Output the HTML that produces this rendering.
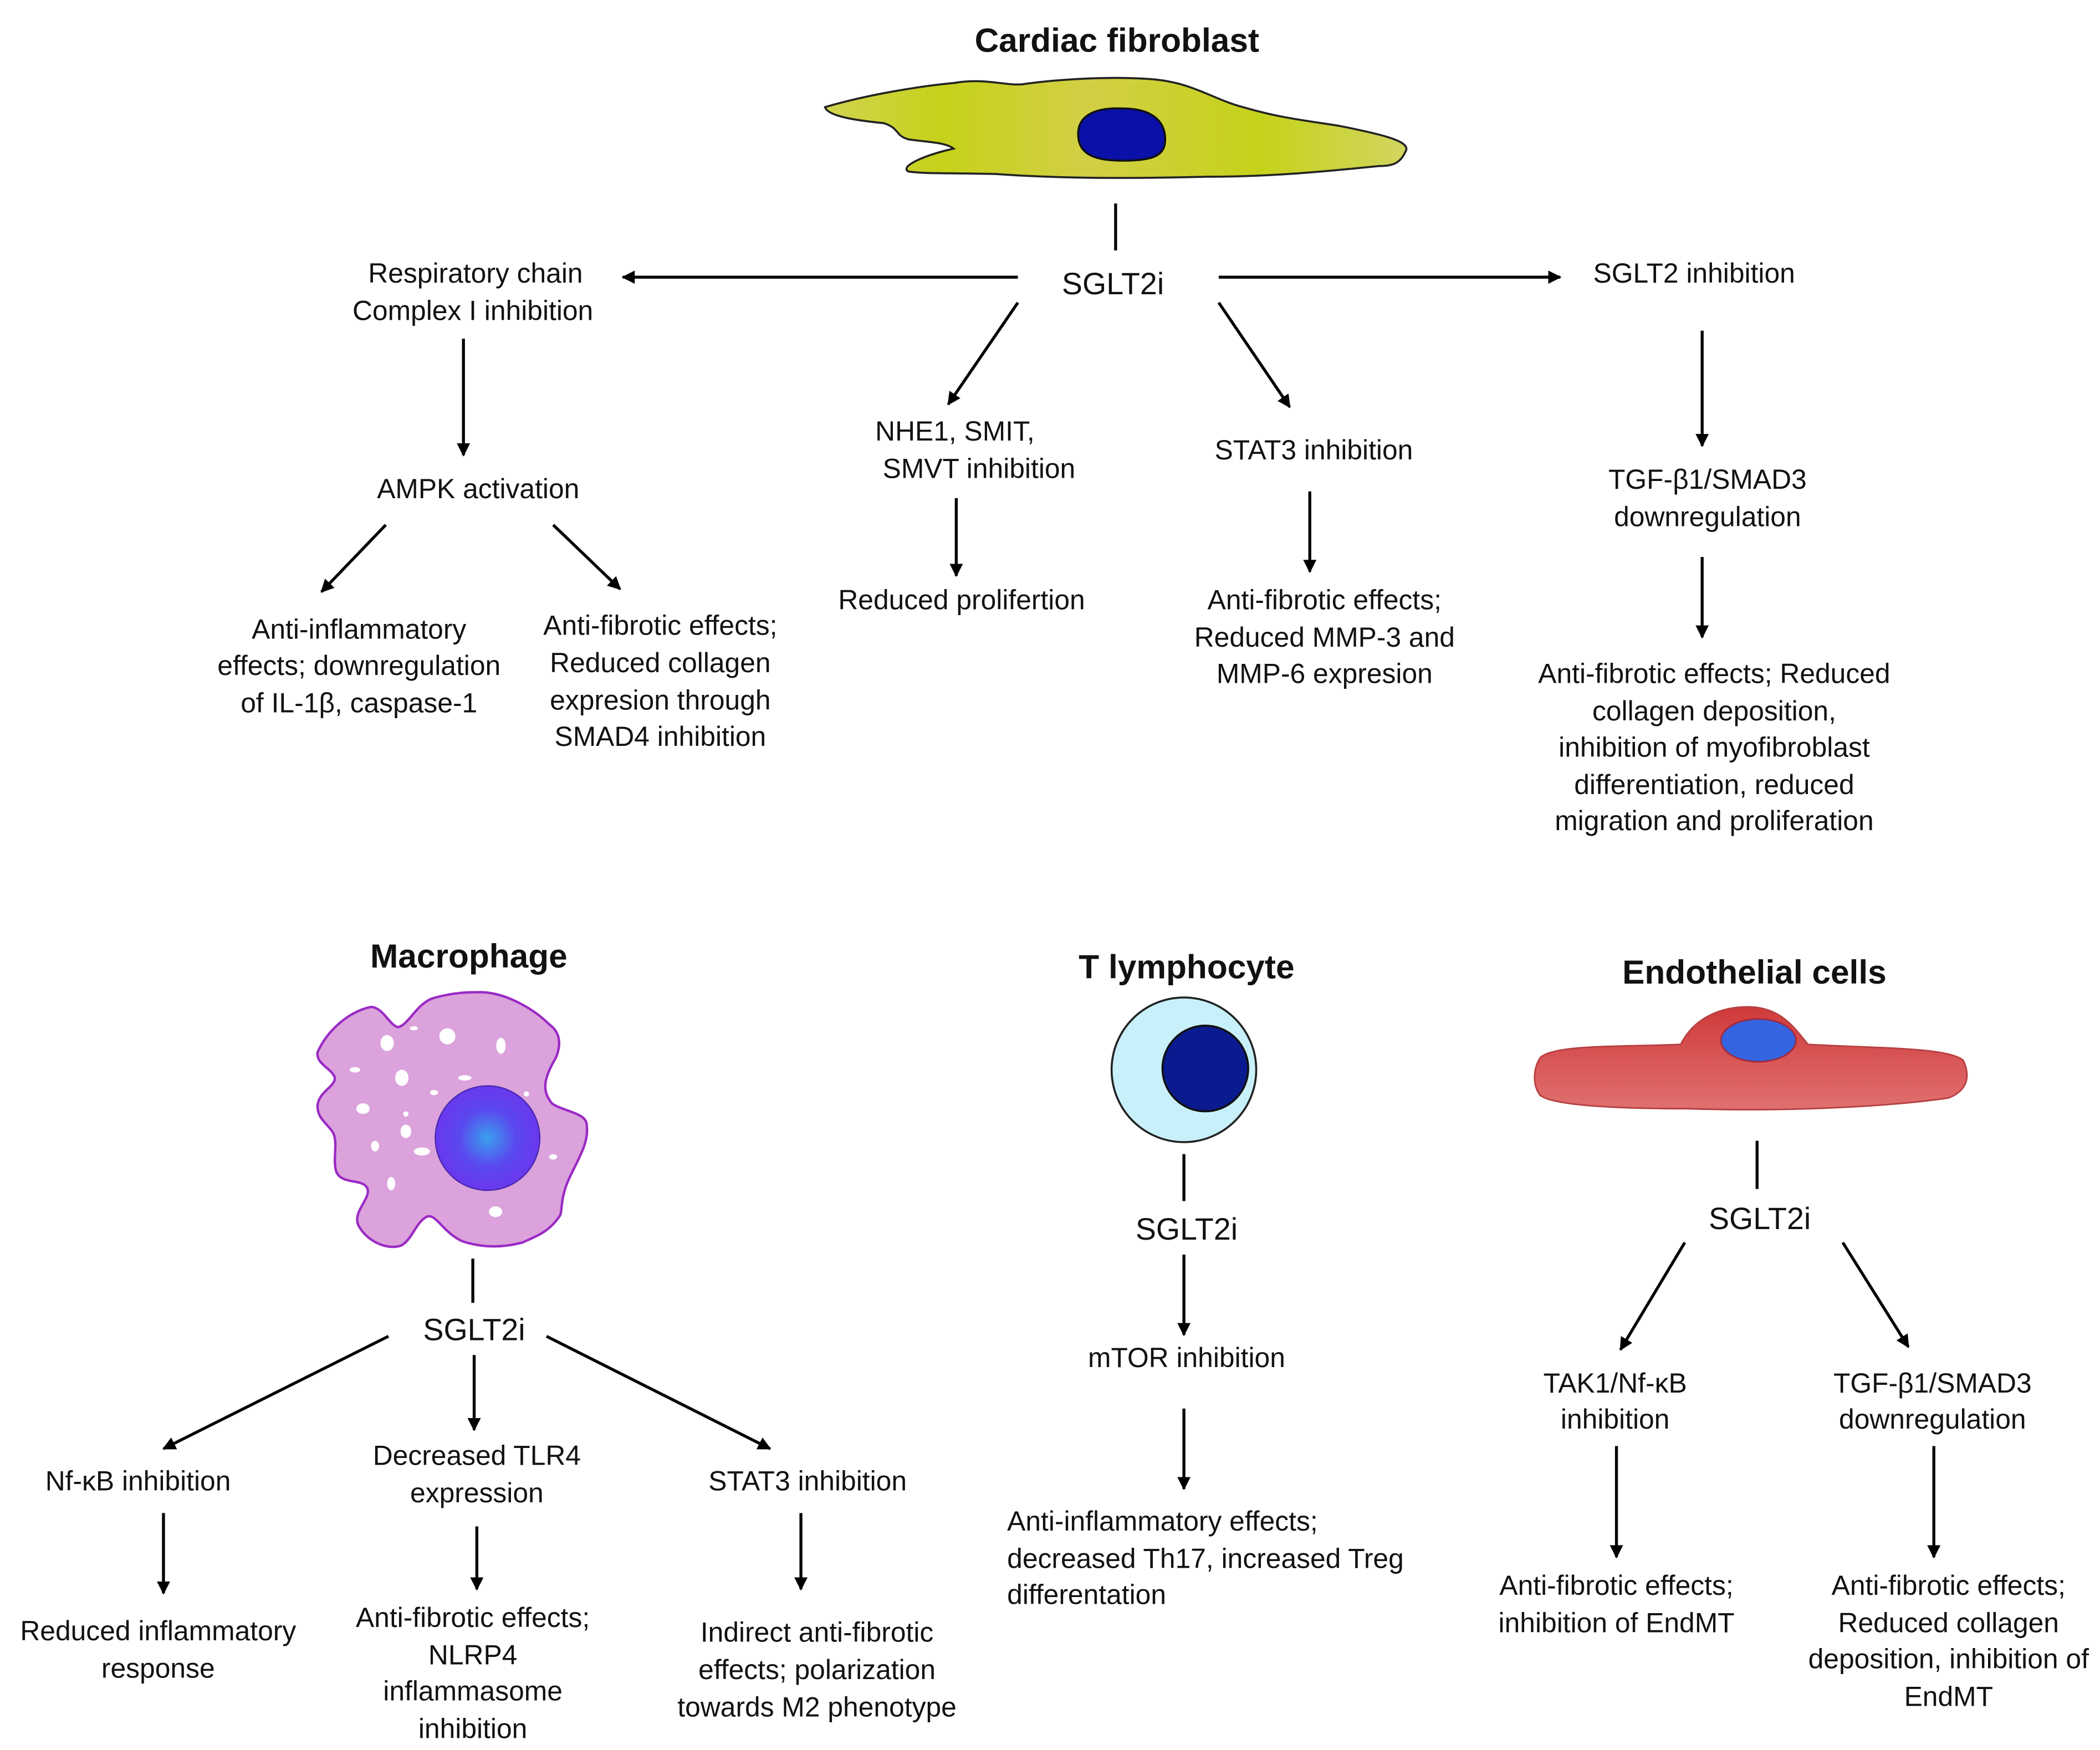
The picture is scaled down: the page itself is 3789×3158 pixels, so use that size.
<!DOCTYPE html>
<html><head><meta charset="utf-8"><style>
html,body{margin:0;padding:0;background:#fff}
svg{display:block}
text{font-family:"Liberation Sans",sans-serif;font-size:20.6px;fill:#111;text-anchor:middle;dominant-baseline:central}
.t{font-weight:bold;font-size:25px}
.s{font-size:23px}
.l{text-anchor:start}
line{stroke:#000;stroke-width:2.2}
</style></head><body>
<svg width="3789" height="3158" viewBox="0 0 1568 1307" xmlns="http://www.w3.org/2000/svg">
<defs>
<marker id="a" viewBox="0 0 10 10" refX="9" refY="5" markerWidth="4.5" markerHeight="4.5" orient="auto"><path d="M0,0 L10,5 L0,10 z" fill="#000"/></marker>
<linearGradient id="fg" x1="0" x2="1" y1="0" y2="0">
<stop offset="0" stop-color="#d0d450"/><stop offset="0.2" stop-color="#c6d21a"/><stop offset="0.45" stop-color="#d2cf45"/><stop offset="0.75" stop-color="#c5d21a"/><stop offset="1" stop-color="#d2d560"/></linearGradient>
<radialGradient id="mn"><stop offset="0" stop-color="#3aa0ee"/><stop offset="0.55" stop-color="#5a48ee"/><stop offset="1" stop-color="#6a38ee"/></radialGradient>
<linearGradient id="eg" x1="0" x2="0" y1="0" y2="1"><stop offset="0" stop-color="#d03a3a"/><stop offset="1" stop-color="#e07070"/></linearGradient>
</defs>

<!-- Cardiac fibroblast -->
<text class="t" x="834" y="30">Cardiac fibroblast</text>
<path d="M616,80 C650,70 690,64 712,62 C735,58 750,64 763,63 C790,59 830,57 858,59 C890,61 905,74 928,80 C955,88 975,90 1000,94 C1030,100 1052,105 1050,112 C1046,122 1040,124 1030,124 C990,128 950,132 900,132 C860,133 800,134 744,130 C710,129 690,130 678,128 C672,124 690,116 712,111 C706,106 690,106 678,104 C668,101 672,96 660,92 C640,90 618,87 616,80 Z" fill="url(#fg)" stroke="#222" stroke-width="1.5"/>
<path d="M805,100 C805,88 815,80 838,81 C862,81 870,92 870,104 C870,116 862,120 838,120 C815,120 805,114 805,100 Z" fill="#0a10a8" stroke="#111" stroke-width="1.5"/>
<line x1="833" y1="152" x2="833" y2="187"/>
<text class="s" x="831" y="212">SGLT2i</text>
<line x1="760" y1="207" x2="465" y2="207" marker-end="url(#a)"/>
<line x1="910" y1="207" x2="1165" y2="207" marker-end="url(#a)"/>
<text x="355" y="204">Respiratory chain</text>
<text x="353" y="232">Complex I inhibition</text>
<text x="1265" y="204">SGLT2 inhibition</text>
<line x1="346" y1="253" x2="346" y2="340" marker-end="url(#a)"/>
<text x="357" y="365">AMPK activation</text>
<line x1="288" y1="392" x2="240" y2="442" marker-end="url(#a)"/>
<line x1="413" y1="392" x2="463" y2="440" marker-end="url(#a)"/>
<text x="268" y="470">Anti-inflammatory</text>
<text x="268" y="497">effects; downregulation</text>
<text x="268" y="525">of IL-1β, caspase-1</text>
<text x="493" y="467">Anti-fibrotic effects;</text>
<text x="493" y="495">Reduced collagen</text>
<text x="493" y="523">expresion through</text>
<text x="493" y="550">SMAD4 inhibition</text>
<line x1="760" y1="226" x2="708" y2="302" marker-end="url(#a)"/>
<text x="713" y="322">NHE1, SMIT,</text>
<text x="731" y="350">SMVT inhibition</text>
<line x1="714" y1="372" x2="714" y2="430" marker-end="url(#a)"/>
<text x="718" y="448">Reduced prolifertion</text>
<line x1="910" y1="226" x2="963" y2="304" marker-end="url(#a)"/>
<text x="981" y="336">STAT3 inhibition</text>
<line x1="978" y1="367" x2="978" y2="427" marker-end="url(#a)"/>
<text x="989" y="448">Anti-fibrotic effects;</text>
<text x="989" y="476">Reduced MMP-3 and</text>
<text x="989" y="503">MMP-6 expresion</text>
<line x1="1271" y1="247" x2="1271" y2="333" marker-end="url(#a)"/>
<text x="1275" y="358">TGF-β1/SMAD3</text>
<text x="1275" y="386">downregulation</text>
<line x1="1271" y1="416" x2="1271" y2="476" marker-end="url(#a)"/>
<text x="1280" y="503">Anti-fibrotic effects; Reduced</text>
<text x="1280" y="531">collagen deposition,</text>
<text x="1280" y="558">inhibition of myofibroblast</text>
<text x="1280" y="586">differentiation, reduced</text>
<text x="1280" y="613">migration and proliferation</text>

<!-- Macrophage -->
<text class="t" x="350" y="714">Macrophage</text>
<path d="M237,786 C245,768 262,755 277,752 C286,752 292,768 298,767 C306,764 312,748 325,745 C340,741 350,741 360,741 C380,742 400,755 410,765 C420,772 418,783 415,790 C405,807 405,815 412,824 C420,830 438,831 438,840 C440,853 432,865 425,880 C418,895 420,905 418,908 C410,920 401,923 390,928 C375,932 360,932 345,927 C330,920 325,905 318,909 C310,914 308,925 300,930 C290,934 275,928 268,916 C262,905 278,895 274,887 C270,880 255,885 251,875 C248,865 253,852 248,845 C243,838 237,835 237,826 C238,815 250,812 250,805 C248,798 236,795 237,786 Z" fill="#dba2dc" stroke="#9a2ac4" stroke-width="1.8"/>
<g fill="#fff">
<ellipse cx="289" cy="779" rx="5" ry="6"/><ellipse cx="334" cy="774" rx="6" ry="6"/><ellipse cx="374" cy="781" rx="3.5" ry="6"/>
<ellipse cx="309" cy="768" rx="3" ry="1.5"/><ellipse cx="265" cy="799" rx="4" ry="2"/><ellipse cx="300" cy="805" rx="5" ry="6"/>
<ellipse cx="347" cy="805" rx="5" ry="2"/><ellipse cx="324" cy="816" rx="3" ry="2"/><ellipse cx="271" cy="828" rx="5" ry="4"/>
<ellipse cx="303" cy="832" rx="2" ry="2"/><ellipse cx="303" cy="845" rx="4" ry="5"/><ellipse cx="280" cy="856" rx="3" ry="4"/>
<ellipse cx="315" cy="860" rx="6" ry="3"/><ellipse cx="292" cy="884" rx="3" ry="5"/><ellipse cx="370" cy="905" rx="5" ry="4"/>
<ellipse cx="413" cy="864" rx="3" ry="2"/><ellipse cx="393" cy="817" rx="2" ry="2"/></g>
<circle cx="364" cy="850" r="39" fill="url(#mn)" stroke="#4a2ab0" stroke-width="1"/>
<line x1="353" y1="940" x2="353" y2="973"/>
<text class="s" x="354" y="993">SGLT2i</text>
<line x1="290" y1="998" x2="122" y2="1082" marker-end="url(#a)"/>
<line x1="354" y1="1012" x2="354" y2="1068" marker-end="url(#a)"/>
<line x1="408" y1="998" x2="575" y2="1082" marker-end="url(#a)"/>
<text x="103" y="1106">Nf-κB inhibition</text>
<line x1="122" y1="1130" x2="122" y2="1190" marker-end="url(#a)"/>
<text x="118" y="1218">Reduced inflammatory</text>
<text x="118" y="1246">response</text>
<text x="356" y="1087">Decreased TLR4</text>
<text x="356" y="1115">expression</text>
<line x1="356" y1="1140" x2="356" y2="1187" marker-end="url(#a)"/>
<text x="353" y="1208">Anti-fibrotic effects;</text>
<text x="353" y="1236">NLRP4</text>
<text x="353" y="1263">inflammasome</text>
<text x="353" y="1291">inhibition</text>
<text x="603" y="1106">STAT3 inhibition</text>
<line x1="598" y1="1130" x2="598" y2="1187" marker-end="url(#a)"/>
<text x="610" y="1219">Indirect anti-fibrotic</text>
<text x="610" y="1247">effects; polarization</text>
<text x="610" y="1275">towards M2 phenotype</text>

<!-- T lymphocyte -->
<text class="t" x="886" y="722">T lymphocyte</text>
<circle cx="884" cy="799" r="54" fill="#c8f0fa" stroke="#222" stroke-width="1.5"/>
<circle cx="900" cy="798" r="32" fill="#0a1a8f" stroke="#111" stroke-width="1.5"/>
<line x1="884" y1="862" x2="884" y2="897"/>
<text class="s" x="886" y="918">SGLT2i</text>
<line x1="884" y1="937" x2="884" y2="997" marker-end="url(#a)"/>
<text x="886" y="1014">mTOR inhibition</text>
<line x1="884" y1="1052" x2="884" y2="1112" marker-end="url(#a)"/>
<text class="l" x="752" y="1136">Anti-inflammatory effects;</text>
<text class="l" x="752" y="1164">decreased Th17, increased Treg</text>
<text class="l" x="752" y="1191">differentation</text>

<!-- Endothelial -->
<text class="t" x="1310" y="726">Endothelial cells</text>
<path d="M1150,790 C1160,780 1210,782 1255,780 C1265,760 1285,752 1305,752 C1330,752 1340,768 1350,780 C1400,783 1455,782 1466,792 C1472,805 1468,815 1455,820 C1400,828 1320,830 1260,828 C1210,828 1160,826 1150,818 C1144,810 1145,798 1150,790 Z" fill="url(#eg)" stroke="#b84040" stroke-width="1.2"/>
<ellipse cx="1313" cy="777" rx="28" ry="16" fill="#3464e0" stroke="#a02a40" stroke-width="1.2"/>
<line x1="1312" y1="852" x2="1312" y2="888"/>
<text class="s" x="1314" y="910">SGLT2i</text>
<line x1="1258" y1="928" x2="1210" y2="1008" marker-end="url(#a)"/>
<line x1="1376" y1="928" x2="1425" y2="1006" marker-end="url(#a)"/>
<text x="1206" y="1033">TAK1/Nf-κB</text>
<text x="1206" y="1060">inhibition</text>
<line x1="1207" y1="1080" x2="1207" y2="1163" marker-end="url(#a)"/>
<text x="1207" y="1184">Anti-fibrotic effects;</text>
<text x="1207" y="1212">inhibition of EndMT</text>
<text x="1443" y="1033">TGF-β1/SMAD3</text>
<text x="1443" y="1060">downregulation</text>
<line x1="1444" y1="1080" x2="1444" y2="1163" marker-end="url(#a)"/>
<text x="1455" y="1184">Anti-fibrotic effects;</text>
<text x="1455" y="1212">Reduced collagen</text>
<text x="1455" y="1239">deposition, inhibition of</text>
<text x="1455" y="1267">EndMT</text>
</svg>
</body></html>
